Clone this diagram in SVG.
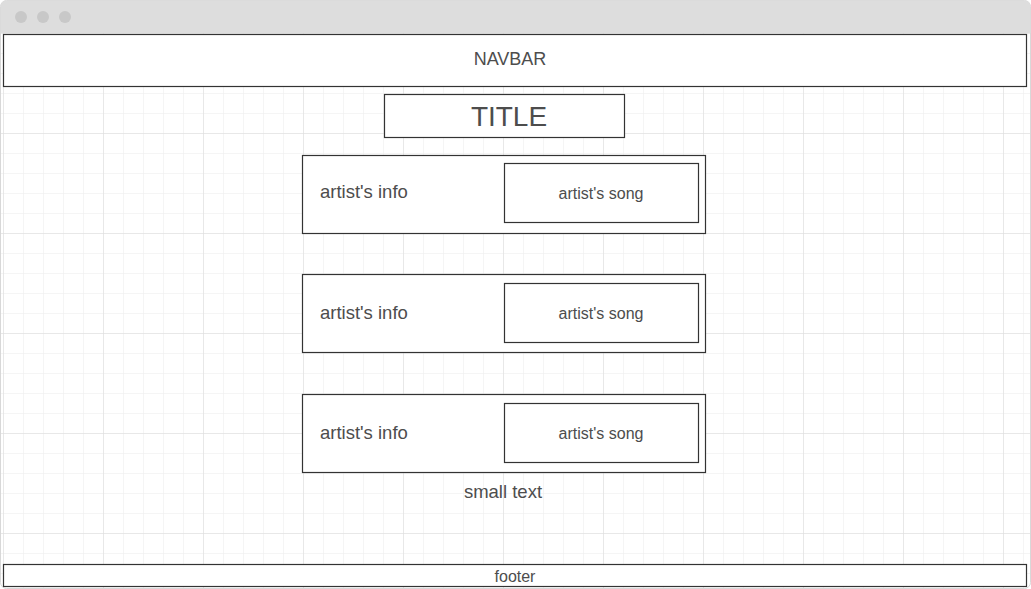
<svg xmlns="http://www.w3.org/2000/svg" width="1031" height="589" viewBox="0 0 1031 589">
<defs>
<pattern id="minor" x="3" y="13" width="20" height="20" patternUnits="userSpaceOnUse">
<path d="M0 0H20M0 0V20" fill="none" stroke="#ececec" stroke-width="1"/>
</pattern>
<pattern id="major" x="3" y="33" width="100" height="100" patternUnits="userSpaceOnUse">
<path d="M0 0H100M0 0V100" fill="none" stroke="#dcdcdc" stroke-width="1"/>
</pattern>
</defs>
<style>
.box{fill:#fff;stroke:#333;stroke-width:1.2}
.t{font-family:"Liberation Sans",Arial,sans-serif;fill:#4d4d4d;text-anchor:middle;dominant-baseline:central}
.info{font-family:"Liberation Sans",Arial,sans-serif;fill:#4d4d4d;font-size:18.5px;dominant-baseline:central}
.dot{fill:#c8c8c8}
</style>
<g id="window">
<rect x="0.5" y="0.5" width="1030" height="588" rx="6" fill="#fff" stroke="#d8d8d8"/>
<path d="M0.5 33V6.5a6 6 0 0 1 6-6H1024.5a6 6 0 0 1 6 6V33Z" fill="#dddddd"/>
<circle class="dot" cx="21" cy="17" r="6"/>
<circle class="dot" cx="43" cy="17" r="6"/>
<circle class="dot" cx="65" cy="17" r="6"/>
<rect x="1" y="33" width="1029" height="555" fill="url(#minor)"/>
<rect x="1" y="33" width="1029" height="555" fill="url(#major)"/>
</g>
<g id="navbar">
<rect class="box" x="3.5" y="34.5" width="1023" height="52"/>
<text class="t" x="510" y="59" font-size="18">NAVBAR</text>
</g>
<g id="title">
<rect class="box" x="384.5" y="94.5" width="240" height="43"/>
<text class="t" x="509" y="116" font-size="28">TITLE</text>
</g>
<g id="card1">
<rect class="box" x="302.5" y="155.5" width="403" height="78"/>
<text class="info" x="320" y="191">artist's info</text>
</g>
<g id="song1">
<rect class="box" x="504.5" y="163.5" width="194" height="59"/>
<text class="t" x="601" y="193" font-size="16">artist's song</text>
</g>
<g id="card2">
<rect class="box" x="302.5" y="274.5" width="403" height="78"/>
<text class="info" x="320" y="312">artist's info</text>
</g>
<g id="song2">
<rect class="box" x="504.5" y="283.5" width="194" height="59"/>
<text class="t" x="601" y="313" font-size="16">artist's song</text>
</g>
<g id="card3">
<rect class="box" x="302.5" y="394.5" width="403" height="78"/>
<text class="info" x="320" y="432">artist's info</text>
</g>
<g id="song3">
<rect class="box" x="504.5" y="403.5" width="194" height="59"/>
<text class="t" x="601" y="433" font-size="16">artist's song</text>
</g>
<g id="smalltext">
<text class="t" x="503" y="491" font-size="18.5">small text</text>
</g>
<g id="footer">
<rect class="box" x="3.5" y="564.5" width="1023" height="22"/>
<text class="t" x="515" y="576" font-size="16">footer</text>
</g>
<g id="connectors"/>
</svg>
